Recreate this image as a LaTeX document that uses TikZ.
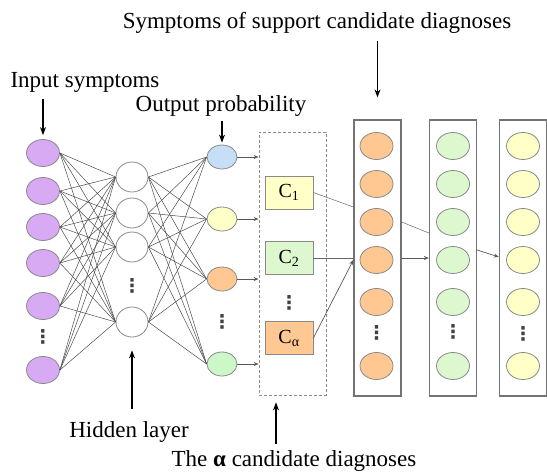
\documentclass[tikz,border=0pt]{standalone}
\usepackage{fontspec}
\setmainfont{Liberation Serif}
\newfontfamily\dotsfont{DejaVu Sans}
\usetikzlibrary{
  arrows.meta,
  calc,
  positioning,
  shapes.geometric
}
\definecolor{inpurple}{HTML}{D8AAF4}
\definecolor{outblue}{HTML}{C6DEF6}
\definecolor{outyellow}{HTML}{FFFFC8}
\definecolor{outorange}{HTML}{FFC792}
\definecolor{outgreen}{HTML}{CCF7C6}
\definecolor{supgreen}{HTML}{DDF8CF}
\definecolor{edgegray}{HTML}{8A8A8A}

\begin{document}
\begin{tikzpicture}[
  x=1pt, y=-1pt,
  unit/.style={ellipse, draw=edgegray, line width=0.8pt, minimum width=33pt, minimum height=27pt, inner sep=0pt},
  hidden/.style={unit, fill=white, minimum width=32pt, minimum height=30pt},
  outp/.style={unit, minimum width=30pt, minimum height=24pt},
  cand/.style={rectangle, draw=edgegray, line width=0.8pt, minimum width=48pt, minimum height=33pt, inner sep=0pt, font=\fontsize{20}{22}\selectfont},
  candframe/.style={rectangle, draw=edgegray, line width=0.8pt, dash pattern=on 3pt off 2pt, minimum width=67pt, minimum height=263pt},
  column/.style={rectangle, draw=black!55, line width=1.3pt, minimum width=47pt, minimum height=276pt},
  dots/.style={inner sep=0pt, text=black!75, font=\dotsfont\bfseries\fontsize{19}{19}\selectfont},
  label/.style={inner sep=2pt, anchor=base, font=\fontsize{23}{27}\selectfont},
  link/.style={draw=black!70, line width=0.5pt},
  feed/.style={-{Stealth[length=5pt, width=4pt]}, draw=black!65, line width=0.7pt},
  arrow/.style={-{Stealth[length=8pt, width=6pt]}, line width=1.1pt},
]
\useasboundingbox (0,0) rectangle (547,472);

% Input layer
\foreach \i/\y in {1/153, 2/191, 3/227, 4/263, 5/306, 6/370}
  \node[unit, fill=inpurple] (in\i) at (43,\y) {};
\node[dots] (indots) at (43,337) {⋮};

% Hidden layer
\foreach \i/\y in {1/177, 2/213, 3/247, 4/322}
  \node[hidden] (hid\i) at (132,\y) {};
\node[dots] (hiddots) at (132,286) {⋮};

% Output layer
\node[outp, fill=outblue] (out1) at (222,157) {};
\node[outp, fill=outyellow] (out2) at (222,219) {};
\node[outp, fill=outorange] (out3) at (222,279) {};
\node[outp, fill=outgreen] (out4) at (222,364) {};
\node[dots] (outdots) at (222,322) {⋮};

% Fully connected weights
\foreach \i in {1,...,6}
  \foreach \j in {1,...,4}
    \draw[link] (in\i.east) -- (hid\j.west);
\foreach \i in {1,...,4}
  \foreach \j in {1,...,4}
    \draw[link] (hid\i.east) -- (out\j.west);

% Candidate diagnoses
\node[candframe] (cands) at (292.5,263.5) {};
\node[cand, fill=outyellow] (c1) at (289,192.5) {C\textsubscript{1}};
\node[cand, fill=supgreen] (c2) at (289,258) {C\textsubscript{2}};
\node[dots] (cdots) at (289,303) {⋮};
\node[cand, fill=outorange] (ca) at (289,338) {C\textsubscript{α}};

\foreach \i in {1,...,4}
  \draw[feed] (out\i.east) -- (out\i.east -| cands.west);

% Support symptom columns
\node[column] (sup) at (377.5,258) {};
\node[column] (grp2) at (453,258) {};
\node[column] (grp3) at (523,258) {};
\foreach \i/\y in {1/146, 2/184, 3/222, 4/260, 5/302, 6/366} {
  \node[unit, fill=outorange] (s\i) at (376.5,\y) {};
  \node[unit, fill=supgreen] (g\i) at (453,\y) {};
  \node[unit, fill=outyellow] (y\i) at (523,\y) {};
}
\node[dots] (sdots) at (376.5,333) {⋮};
\node[dots] (gdots) at (453,332) {⋮};
\node[dots] (ydots) at (523,334) {⋮};

% Links between candidates and columns
\draw[link, draw=black!60] (c1.east) -- ([yshift=51pt]sup.west);
\draw[link, draw=black!60] (c2.east) -- (sup.west);
\draw[feed] (ca.east) -- ([yshift=-2pt]sup.west);
\draw[link, draw=black!60] ([yshift=36pt]sup.east) -- ([yshift=25pt]grp2.west);
\draw[feed] (sup.east) -- (grp2.west);
\draw[feed] ([yshift=8pt]grp2.east) -- ([yshift=1pt]grp3.west);

% Labels
\node[label] (lsup) at (317,28) {Symptoms of support candidate diagnoses};
\node[label] (linput) at (85,87) {Input symptoms};
\node[label] (lout) at (221,111) {Output probability};
\node[label] (lhid) at (129,437) {Hidden layer};
\node[label] (lalpha) at (294,466) {The {\bfseries α} candidate diagnoses};

\draw[arrow, shorten <=6pt] (lsup.south -| sup.north) -- ([yshift=22pt]sup.north);
\draw[arrow, shorten <=5pt] (linput.south -| in1.north) -- ([yshift=4pt]in1.north);
\draw[arrow, shorten <=3pt] (lout.south -| out1.north) -- ([yshift=2pt]out1.north);
\draw[arrow, shorten <=10pt] (lhid.north -| hid4.south) -- ([yshift=-13pt]hid4.south);
\draw[arrow] ([xshift=-18pt, yshift=4pt]lalpha.north) -- ([xshift=-16.5pt, yshift=-7pt]cands.south);
\end{tikzpicture}
\end{document}
